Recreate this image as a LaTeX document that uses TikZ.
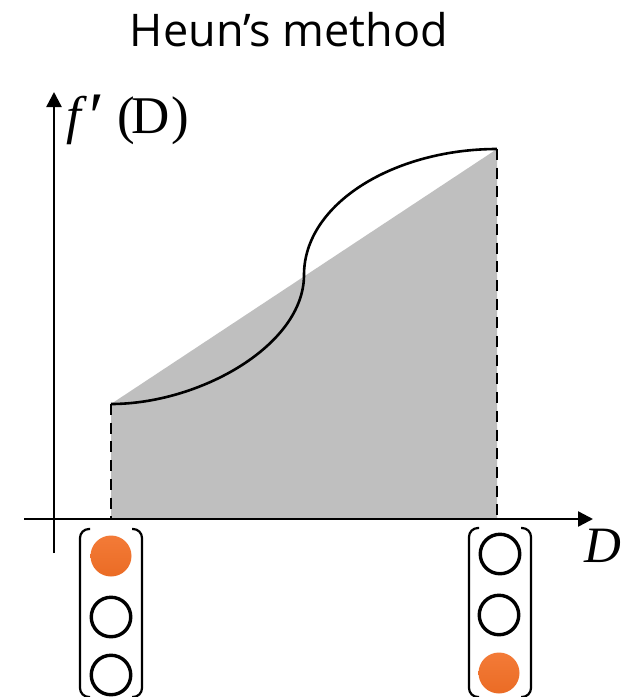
\documentclass[tikz,border=0pt]{standalone}
\usepackage{fontspec}
\setmainfont{Liberation Serif}
\newfontfamily\titlefont{Open Sans}
\usetikzlibrary{arrows.meta}
\definecolor{areagrey}{HTML}{BFBFBF}
\definecolor{dotfill}{HTML}{F26F26}
\tikzset{
  axisline/.style={line width=2.4pt,-{Triangle[length=15pt,width=15pt]}},
  guideline/.style={line width=2.4pt,dash pattern=on 11pt off 7.7pt},
  curveline/.style={line width=2.6pt},
  bracketline/.style={line width=2.2pt,rounded corners=9pt},
  emptydot/.style={circle,draw=black,line width=3.4pt,fill=white,minimum size=39.5pt,inner sep=0pt},
  fulldot/.style={circle,top color=dotfill!92!white,bottom color=dotfill!97!black,draw=none,minimum size=41pt,inner sep=0pt},
  lab/.style={inner sep=0pt,outer sep=0pt}
}
\begin{document}
\begin{tikzpicture}[x=1pt,y=-1pt]
\useasboundingbox (0,0) rectangle (623,697);
\fill[white] (0,0) rectangle (623,697);
% shaded region
\coordinate (a) at (111,404);
\coordinate (b) at (497,149);
\coordinate (m) at (304,275);
\coordinate (a0) at (111,519);
\coordinate (b0) at (497,519);
\fill[areagrey] (a) -- (b) -- (b0) -- (a0) -- cycle;
% axes
\coordinate (yS) at (54,553);
\coordinate (yE) at (54,92);
\coordinate (xS) at (24,519);
\coordinate (xE) at (593,519);
\draw[axisline] (yS) -- (yE);
\draw[axisline] (xS) -- (xE);
% guides
\draw[guideline] (a) -- (a0);
\draw[guideline] (b) -- (b0);
% curve
\draw[curveline] (a) .. controls (200,404) and (304,345) .. (304,275)
  .. controls (304,203) and (395,149) .. (b);
% labels
\node[lab,font=\titlefont\fontsize{45}{45}\selectfont] (title) at (289,30) {Heun’s method};
\node[lab,font=\fontsize{53}{53}\selectfont,anchor=base west] (fl) at (66,133) {\textit{f}\hspace{3pt}\raisebox{-6pt}{\fontsize{68}{68}\selectfont ′}\hspace{13pt}(\kern-4pt D\kern2pt)};
\node[lab,font=\fontsize{51}{51}\selectfont\itshape] (dl) at (603,546) {D};
% left column
\node[fulldot] (l1) at (111,556) {};
\node[emptydot] (l2) at (111,617) {};
\node[emptydot] (l3) at (111,675) {};
\coordinate (lbl1) at (90,529); \coordinate (lbl2) at (80,529); \coordinate (lbl3) at (80,697); \coordinate (lbl4) at (90,697);
\coordinate (lbr1) at (132,529); \coordinate (lbr2) at (142,529); \coordinate (lbr3) at (142,697); \coordinate (lbr4) at (132,697);
\draw[bracketline] (lbl1) -- (lbl2) -- (lbl3) -- (lbl4);
\draw[bracketline] (lbr1) -- (lbr2) -- (lbr3) -- (lbr4);
% right column
\node[emptydot] (r1) at (500,554) {};
\node[emptydot] (r2) at (499,615) {};
\node[fulldot] (r3) at (499,673) {};
\coordinate (rbl1) at (479,528); \coordinate (rbl2) at (469,528); \coordinate (rbl3) at (469,697); \coordinate (rbl4) at (479,697);
\coordinate (rbr1) at (521,528); \coordinate (rbr2) at (531,528); \coordinate (rbr3) at (531,697); \coordinate (rbr4) at (521,697);
\draw[bracketline] (rbl1) -- (rbl2) -- (rbl3) -- (rbl4);
\draw[bracketline] (rbr1) -- (rbr2) -- (rbr3) -- (rbr4);
\end{tikzpicture}
\end{document}
